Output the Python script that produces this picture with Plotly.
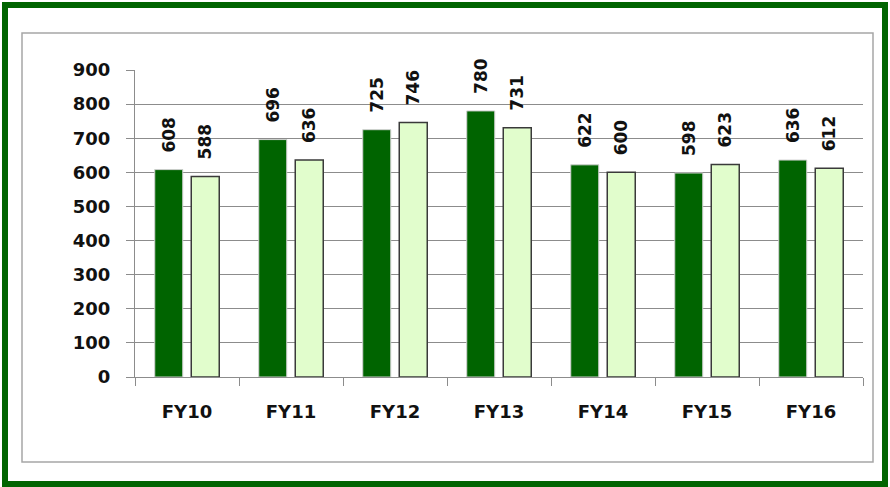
import plotly.graph_objects as go

categories = ["FY10", "FY11", "FY12", "FY13", "FY14", "FY15", "FY16"]
series_a = [608, 696, 725, 780, 622, 598, 636]
series_b = [588, 636, 746, 731, 600, 623, 612]
y_ticks = [0, 100, 200, 300, 400, 500, 600, 700, 800, 900]

W, H = 890, 487
L, R, T, B = 135, 27, 70, 110
pw, ph = W - L - R, H - T - B

def px(x):
    return (x - L) / pw

def py(y):
    return (H - B - y) / ph

FONT = "DejaVu Sans"

fig = go.Figure()
fig.add_trace(go.Bar(x=categories, y=series_a, name="A",
                     marker=dict(color="#006400", line=dict(color="#d0d0d0", width=1))))
fig.add_trace(go.Bar(x=categories, y=series_b, name="B",
                     marker=dict(color="#E1FDCC", line=dict(color="#3a3a3a", width=1.5))))

ann = []
for c, a, b in zip(categories, series_a, series_b):
    for v, sh in ((a, -18), (b, 18)):
        ann.append(dict(x=c, y=v, xref="x", yref="y", text=f"<b>{v}</b>", showarrow=False,
                        textangle=-90, xshift=sh, yanchor="bottom", yshift=15,
                        font=dict(family=FONT, size=17, color="#111111")))

shapes = [
    dict(type="rect", xref="paper", yref="paper", x0=px(22), x1=px(873), y0=py(462), y1=py(33),
         line=dict(color="#a6a6a6", width=1.5), layer="below"),
    dict(type="rect", xref="paper", yref="paper", x0=px(5), x1=px(885), y0=py(484), y1=py(5),
         line=dict(color="#006400", width=6)),
]

fig.update_layout(
    width=W, height=H, margin=dict(l=L, r=R, t=T, b=B),
    paper_bgcolor="white", plot_bgcolor="white",
    showlegend=False, barmode="group", bargap=0.298, bargroupgap=0.233,
    annotations=ann, shapes=shapes,
    font=dict(family=FONT, size=17, color="#111111"),
)
fig.update_xaxes(showline=True, linecolor="#8c8c8c", linewidth=1, ticks="outside",
                 tickson="boundaries", ticklen=8, tickcolor="#8c8c8c",
                 ticklabelstandoff=18, showgrid=False,
                 tickfont=dict(family=FONT, size=18, color="#111111", weight="bold"))
fig.update_yaxes(range=[0, 900], tickvals=y_ticks, showline=True, linecolor="#8c8c8c",
                 linewidth=1, ticks="outside", ticklen=8, tickcolor="#8c8c8c",
                 showgrid=True, gridcolor="#8c8c8c", gridwidth=1, zeroline=False,
                 ticklabelstandoff=12,
                 tickfont=dict(family=FONT, size=18, color="#111111", weight="bold"))

fig.write_html("out.html", config={"displayModeBar": False},
               post_script="document.body.style.margin='0';")
